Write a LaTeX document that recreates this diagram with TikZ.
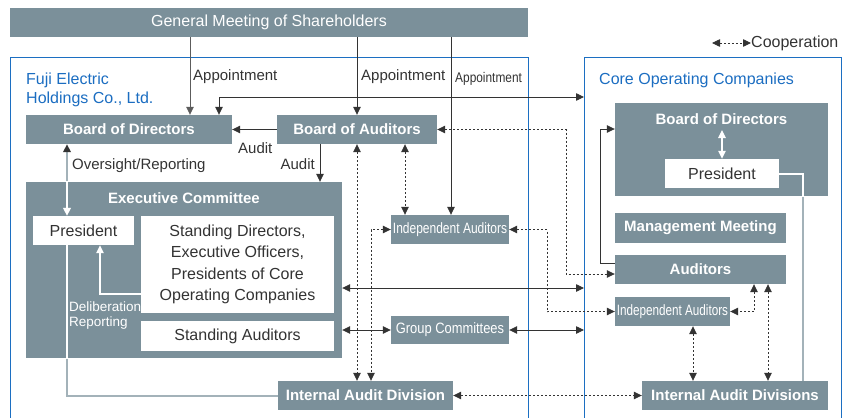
\documentclass[tikz,border=0pt]{standalone}
\usepackage{fontspec}
\setmainfont{Liberation Sans}
\usetikzlibrary{arrows.meta}

\definecolor{boxgrey}{HTML}{7B909A}
\definecolor{frameblue}{HTML}{1C6FC2}
\definecolor{textblue}{HTML}{1B6DC1}
\definecolor{linedark}{HTML}{333333}
\definecolor{linegrey}{HTML}{A3B2B9}

\tikzset{
        greybox/.style={fill=boxgrey, text=white, inner sep=0pt,
                font=\fontsize{15}{18}\selectfont\bfseries},
        whitebox/.style={fill=white, text=linedark, inner sep=0pt, align=center,
                font=\fontsize{16}{21.5}\selectfont},
        narrowbox/.style={fill=boxgrey, text=white, inner sep=0pt,
                font=\fontsize{15}{17}\selectfont},
        framebox/.style={draw=frameblue, line width=1pt, inner sep=0pt, anchor=north west},
        labeltext/.style={text=linedark, inner sep=0pt, font=\fontsize{15}{18}\selectfont},
        bluetext/.style={text=textblue, inner sep=0pt, align=left, font=\fontsize{16}{19}\selectfont},
        coop/.style={draw=linedark, line width=0.8pt, dash pattern=on 2pt off 2pt, <->},
        link/.style={draw=linedark, line width=0.8pt},
        lightlink/.style={draw=linegrey, line width=2pt},
        whitelink/.style={draw=white, line width=2pt}
}

\begin{document}
\begin{tikzpicture}[x=1pt, y=-1pt, >={Triangle[length=8pt, width=7.5pt]}]
        \useasboundingbox (0,0) rectangle (855,418);
        \clip (0,0) rectangle (855,418);

        \node[framebox, minimum width=518, minimum height=400] (fuji) at (10,57) {};
        \node[framebox, minimum width=257, minimum height=400] (core) at (584,57) {};
        \node[bluetext, anchor=west] (fujilabel) at (26,89.5) {Fuji Electric\\Holdings Co., Ltd.};
        \node[bluetext, anchor=west] (corelabel) at (599,80) {Core Operating Companies};

        \node[greybox, minimum width=518, minimum height=29,
                font=\fontsize{16}{19}\selectfont] (gm) at (269,22.5) {General Meeting of Shareholders};

        \node[greybox, minimum width=206, minimum height=29] (bodL) at (129,129.5) {Board of Directors};
        \node[greybox, minimum width=160, minimum height=29] (boa) at (357,129.5) {Board of Auditors};
        \node[greybox, minimum width=316, minimum height=176] (exec) at (184,270) {};
        \node[greybox, fill=none] (execlabel) at (184,198) {Executive Committee};
        \node[whitebox, minimum width=101, minimum height=29] (presL) at (83.5,230.5) {President};
        \node[whitebox, minimum width=193, minimum height=97] (sdir) at (237.5,264.5)
                {Standing Directors,\\Executive Officers,\\Presidents of Core\\Operating Companies};
        \node[whitebox, minimum width=193, minimum height=30] (saud) at (237.5,336) {Standing Auditors};
        \node[narrowbox, minimum width=118, minimum height=29] (indL) at (450,229.5)
                {\scalebox{0.8}[1]{Independent Auditors}};
        \node[narrowbox, minimum width=118, minimum height=28] (grp) at (450,330)
                {\scalebox{0.86}[1]{Group Committees}};
        \node[greybox, minimum width=175, minimum height=29] (iad) at (365.5,395.5) {Internal Audit Division};

        \node[greybox, minimum width=213, minimum height=93] (bodR) at (721.5,149.5) {};
        \node[greybox, fill=none] (bodRlabel) at (721.5,119) {Board of Directors};
        \node[whitebox, minimum width=114, minimum height=29] (presR) at (722,173.5) {President};
        \node[greybox, minimum width=171, minimum height=30] (mgmt) at (700.5,228) {Management Meeting};
        \node[greybox, minimum width=171, minimum height=29] (audR) at (700.5,269.5) {Auditors};
        \node[narrowbox, minimum width=115, minimum height=29] (indR) at (672.5,311.5)
                {\scalebox{0.78}[1]{Independent Auditors}};
        \node[greybox, minimum width=186, minimum height=29] (iadR) at (735,395.5) {Internal Audit Divisions};

        \node[labeltext, anchor=west] (appt1) at (193,77) {Appointment};
        \node[labeltext, anchor=west] (appt2) at (361,77) {Appointment};
        \node[labeltext, anchor=west, font=\fontsize{14}{17}\selectfont] (appt3) at (455,79)
                {\scalebox{0.85}[1]{Appointment}};
        \node[labeltext, anchor=west] (audit1) at (238,148) {Audit};
        \node[labeltext, anchor=east] (audit2) at (315,164) {Audit};
        \node[labeltext, anchor=west] (oversight) at (72,166) {Oversight/Reporting};
        \node[labeltext, text=white, align=left, anchor=west,
                font=\fontsize{13.5}{15.5}\selectfont] (delib) at (69,315.5) {Deliberation\\Reporting};

        \coordinate (coopa) at (712,43);
        \node[labeltext, anchor=west, font=\fontsize{16}{19}\selectfont] (cooplabel) at (751,43) {Cooperation};
        \draw[coop] (coopa) -- (cooplabel.west);

        \draw[link, draw=linedark!80, ->] (gm.south -| 190,0) -- (bodL.north -| 190,0);
        \draw[link, ->] (gm.south -| boa.north) -- (boa.north);
        \draw[link, ->] (gm.south -| 451,0) -- (indL.north -| 451,0);
        \draw[link, <->] (bodL.north -| 219,0) |- (core.west |- 0,97);
        \draw[link, ->] (boa.west) -- (bodL.east);
        \draw[link, ->] (boa.south -| 320,0) -- (exec.north -| 320,0);
        \draw[link, <->] (exec.east |- 0,288) -- (core.west |- 0,288);
        \draw[link, <->] (exec.east |- grp.west) -- (grp.west);
        \draw[link, <->] (grp.east) -- (core.west |- grp.east);
        \draw[link, ->] (audR.west |- 0,263) -- (600,263) |- (bodR.west |- 0,129);

        \draw[coop] (boa.south) -- (iad.north -| boa.south);
        \draw[coop] (boa.south -| 405,0) -- (indL.north -| 405,0);
        \draw[coop] (indL.west) -| (iad.north -| 371,0);
        \draw[coop] (boa.east) -| (566,274) -- (audR.west |- 0,274);
        \draw[coop] (indL.east) -| (547,311.5) -- (indR.west);
        \draw[coop] (iad.east) -- (iadR.west);
        \draw[coop] (audR.south -| 754,0) |- (indR.east);
        \draw[coop] (audR.south -| 768,0) -- (iadR.north -| 768,0);
        \draw[coop] (indR.south -| 693,0) -- (iadR.north -| 693,0);

        \draw[lightlink, {Triangle[length=8pt, width=7.5pt, color=linedark]}-{Triangle[length=8pt, width=7.5pt]}]
                (bodL.south -| 67,0) -- (presL.north -| 67,0);
        \draw[lightlink] (presL.south -| 67,0) |- (iad.west);
        \draw[lightlink] (presR.east) -| (iadR.north -| 803,0);

        \begin{scope}
                \clip (exec.north west) rectangle (exec.south east);
                \draw[whitelink, -{Triangle[length=8pt, width=7.5pt]}] (bodL.south -| 67,0) -- (presL.north -| 67,0);
                \draw[whitelink] (presL.south -| 67,0) |- (iad.west);
                \draw[whitelink, line width=1.2pt, ->] (sdir.west |- 0,294) -| (presL.south -| 100,0);
        \end{scope}
        \begin{scope}
                \clip (bodR.north west) rectangle (bodR.south east);
                \draw[whitelink] (presR.east) -| (iadR.north -| 803,0);
                \draw[whitelink, line width=1.2pt, <->] (presR.north |- 0,130) -- (presR.north);
        \end{scope}
\end{tikzpicture}
\end{document}
